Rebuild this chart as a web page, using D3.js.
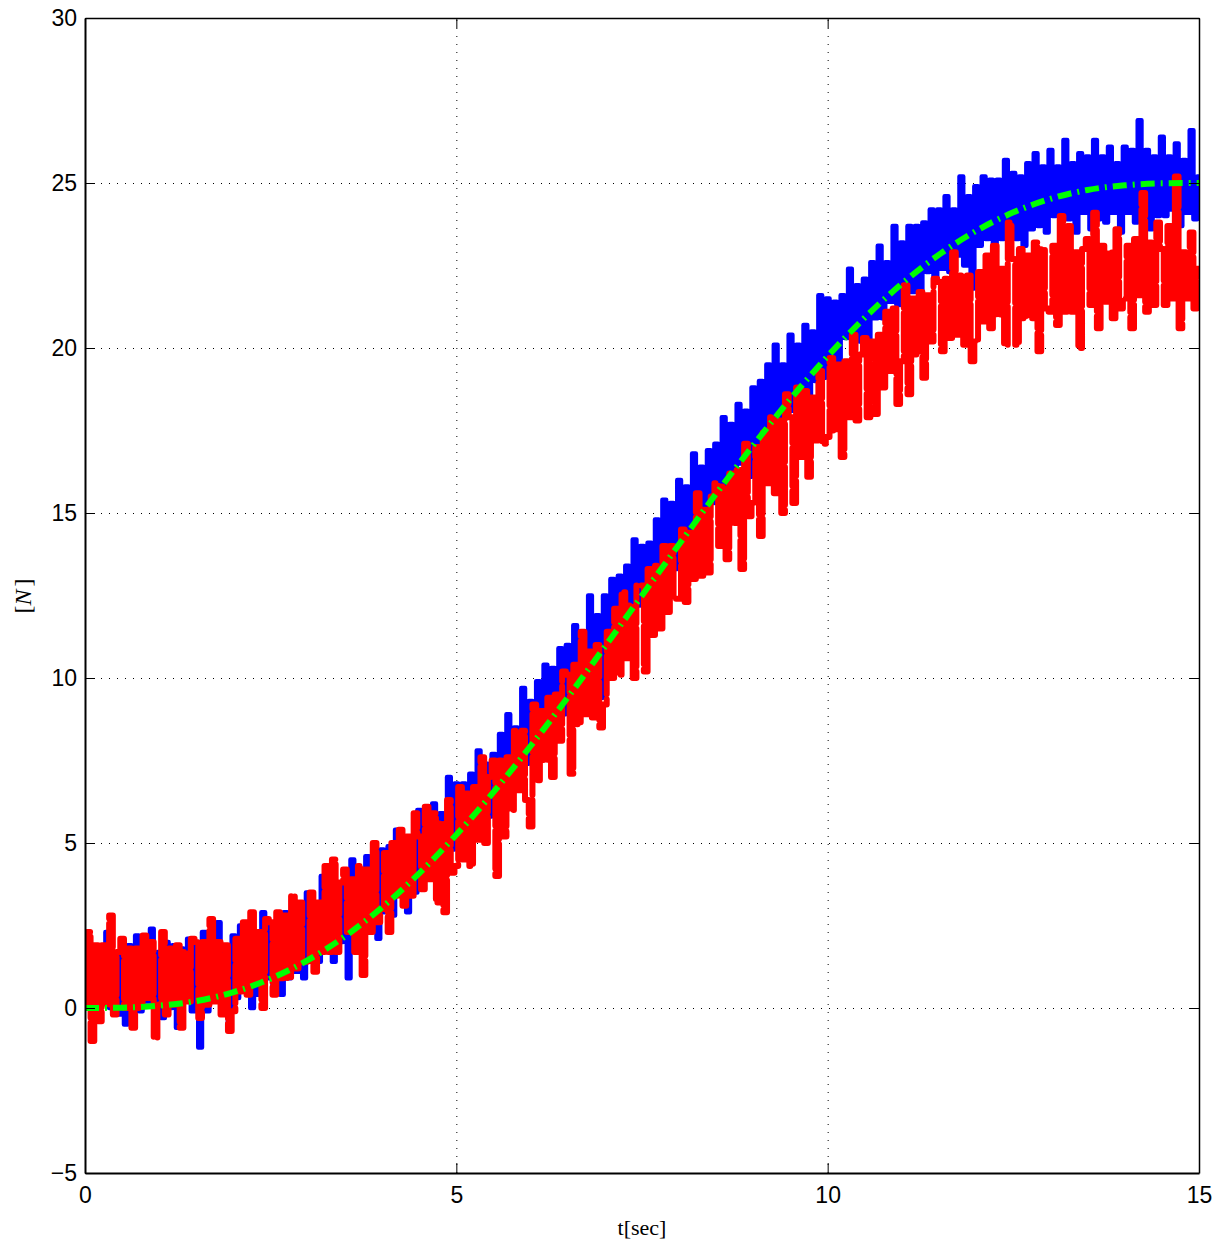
<!DOCTYPE html>
<html><head><meta charset="utf-8">
<script src="https://cdn.jsdelivr.net/npm/d3@7"></script>
<style>body{margin:0;background:#fff}svg{display:block}</style>
</head><body><svg id="c" width="1223" height="1242"></svg>
<script>
// ---- data ----
const xTicks = [0, 5, 10, 15];
const yTicks = [-5, 0, 5, 10, 15, 20, 25, 30];
const xLabel = "t[sec]";
const sampleStep = 0.05; // seconds between measured samples

// desired (reference) force, green dash-dot line
const refTime  = [0,0.5,1,1.5,2,2.5,3,3.5,4,4.5,5,5.5,6,6.5,7,7.5,8,8.5,9,9.5,10,10.5,11,11.5,12,12.5,13,13.5,14,14.5,15];
const refForce = [0,0.01,0.07,0.21,0.48,0.89,1.45,2.17,3.05,4.08,5.25,6.54,7.94,9.41,10.95,12.5,14.05,15.59,17.06,18.46,19.75,20.92,21.95,22.83,23.55,24.11,24.52,24.79,24.93,24.99,25.0];

// measured force, blue solid line
const measuredBlue = [
2.1,0.1,1.8,-0.4,1.8,0.3,2.3,0.0,1.6,-0.2,
1.6,-0.5,1.9,0.1,2.2,-0.1,1.5,0.2,2.4,-0.1,
1.7,-0.3,2.0,0.0,1.9,-0.6,1.8,0.2,2.1,-0.1,
1.9,-1.2,2.3,-0.1,1.7,0.3,2.6,-0.1,1.9,-0.6,
2.2,0.3,2.5,0.5,2.4,0.0,2.3,0.4,2.9,0.9,
2.5,0.6,2.4,0.4,2.9,0.9,3.3,1.1,3.0,0.9,
3.5,1.6,3.1,1.4,4.0,1.7,3.4,1.4,3.8,2.0,
3.8,0.9,4.5,2.1,4.1,2.2,4.6,2.7,4.2,2.1,
4.8,2.9,4.9,2.8,5.4,3.5,5.2,2.9,5.2,3.5,
6.0,3.7,5.6,4.5,6.2,4.2,5.9,4.4,7.0,4.8,
6.8,4.9,6.8,4.7,7.1,5.7,7.8,5.7,7.4,5.8,
7.7,5.8,8.3,6.7,8.9,6.8,8.5,7.4,9.7,7.4,
9.3,7.5,9.9,8.1,10.4,7.8,10.3,8.9,10.9,8.9,
11.0,9.3,11.6,9.4,11.3,10.0,12.5,9.9,11.9,9.4,
12.5,10.8,13.0,11.2,13.1,11.0,13.4,11.6,14.2,12.2,
14.0,12.2,14.1,12.2,14.8,12.9,15.4,13.3,15.3,13.3,
16.0,14.2,15.8,14.2,16.8,14.6,16.4,14.5,16.9,15.3,
17.1,15.1,17.9,15.7,17.7,16.0,18.3,16.5,18.1,16.1,
18.8,16.9,19.0,16.9,19.5,17.7,20.1,17.2,19.5,17.9,
20.4,18.1,20.1,18.6,20.7,18.4,20.5,19.0,21.6,19.1,
21.5,19.6,21.4,19.3,21.6,20.3,22.4,20.2,21.9,20.2,
22.1,20.1,22.6,20.9,23.1,20.9,22.6,21.4,23.7,21.3,
23.2,21.3,23.7,21.7,23.7,21.3,23.8,22.3,24.2,22.1,
24.2,22.4,24.6,22.3,24.2,22.8,25.2,22.5,24.6,21.8,
24.9,23.1,25.2,23.3,25.1,22.9,25.1,23.3,25.7,23.7,
25.3,23.3,25.2,23.1,25.6,23.6,25.9,23.7,25.5,23.5,
26.0,24.0,25.5,23.8,26.3,23.9,25.6,23.5,25.9,24.1,
25.8,23.6,26.3,23.9,25.8,23.8,26.1,24.1,25.6,23.5,
26.1,24.1,26.0,23.8,26.9,24.3,26.0,23.6,25.8,24.0,
26.4,24.0,25.8,24.2,26.2,23.7,25.7,24.1,26.6,23.9,
25.2];

// measured force, red dashed line
const measuredRed = [
0.0,2.3,-1.0,1.9,-0.4,1.9,0.1,2.8,-0.2,1.7,
2.1,0.0,1.8,-0.6,1.8,0.0,2.2,0.3,2.0,-0.9,
0.1,2.3,-0.2,1.8,0.1,1.9,-0.6,1.7,0.2,2.1,
2.0,-0.3,2.0,0.1,2.7,0.2,2.0,-0.2,1.9,-0.7,
-0.1,2.1,0.5,2.6,0.4,2.9,0.8,2.3,0.0,2.7,
2.6,0.4,2.9,0.9,2.8,0.9,3.4,1.2,3.2,1.4,
1.4,3.5,1.1,3.2,1.7,4.3,1.7,4.5,1.7,3.8,
4.2,2.3,3.9,1.7,4.3,1.0,4.2,2.3,5.0,2.6,
3.0,4.7,2.3,5.0,3.4,5.4,3.1,5.2,3.4,5.9,
5.2,3.6,6.1,3.9,5.9,3.2,5.6,2.9,6.3,4.1,
4.3,6.7,4.5,6.5,4.3,6.7,5.1,7.6,5.0,7.0,
7.5,4.0,7.5,5.2,7.6,6.0,8.4,6.6,8.4,6.3,
5.5,9.2,6.9,9.0,7.5,9.4,7.0,9.5,8.1,10.2,
10.1,7.1,10.4,8.6,11.4,8.9,10.8,8.8,11.0,8.5,
9.2,11.4,10.0,12.1,10.1,12.6,10.6,12.2,10.0,12.8,
12.8,10.2,13.3,11.3,13.4,11.5,14.0,12.0,14.0,12.4,
12.4,14.5,12.3,14.4,13.0,15.6,13.1,15.1,13.2,15.5,
15.9,14.0,15.8,13.6,16.2,14.7,16.3,13.3,17.1,14.9,
15.3,17.0,14.3,17.5,15.9,17.9,15.6,17.8,15.0,18.6,
17.9,15.3,18.8,16.7,18.7,16.1,18.5,17.2,19.3,17.1,
17.3,19.7,17.5,19.5,16.7,19.6,17.9,20.4,17.8,19.8,
20.3,17.9,20.2,18.0,20.4,18.8,21.1,19.3,21.2,18.3,
19.6,21.9,18.6,21.5,19.8,21.7,19.1,21.6,20.2,22.1,
22.0,19.9,22.1,20.3,22.9,20.4,22.2,20.1,22.2,19.6,
20.2,22.3,20.8,22.8,20.6,23.1,21.0,22.4,20.1,23.8,
22.7,20.1,23.0,20.9,22.8,20.9,23.2,19.9,23.0,21.2,
21.1,23.1,20.7,24.0,21.1,23.7,21.1,22.9,20.0,23.0,
23.3,21.3,24.1,20.6,23.1,21.4,22.9,20.9,23.6,21.2,
21.5,23.1,20.6,23.3,21.6,24.7,21.1,23.2,21.3,23.8,
23.0,21.3,23.7,21.5,25.2,20.6,22.9,21.5,23.5,21.2,
22.4];

// ---- drawing ----
const svg = d3.select("#c");
const L = 85, R = 1199, T = 18, B = 1173;
const x = d3.scaleLinear().domain([0, 15]).range([L, R]);
const y = d3.scaleLinear().domain([-5, 30]).range([B, T]);
const fmt = d => d < 0 ? "\u2212" + Math.abs(d) : String(d);

svg.append("defs").append("clipPath").attr("id", "clip")
  .append("rect").attr("x", L).attr("y", T).attr("width", R - L).attr("height", B - T);

// grid
const gx = svg.append("g").attr("transform", `translate(0,${B})`)
  .call(d3.axisBottom(x).tickValues(xTicks.slice(1, -1)).tickSize(-(B - T)).tickFormat(""));
const gy = svg.append("g").attr("transform", `translate(${L},0)`)
  .call(d3.axisLeft(y).tickValues(yTicks.slice(1, -1)).tickSize(-(R - L)).tickFormat(""));
[gx, gy].forEach(g => {
  g.select(".domain").remove();
  g.selectAll("line").attr("stroke", "#000").attr("stroke-width", 1).attr("stroke-dasharray", "1,7");
});

// data
const plot = svg.append("g").attr("clip-path", "url(#clip)");
const sampleLine = d3.line().curve(d3.curveStep).x((d, i) => x(i * sampleStep)).y(d => y(d));
plot.append("path").datum(measuredBlue).attr("d", sampleLine)
  .attr("fill", "none").attr("stroke", "#0000ff").attr("stroke-width", 4.5)
  .attr("stroke-linejoin", "round").attr("stroke-linecap", "round");
plot.append("path").datum(measuredRed).attr("d", sampleLine)
  .attr("fill", "none").attr("stroke", "#ff0000").attr("stroke-width", 6)
  .attr("stroke-linejoin", "round").attr("stroke-linecap", "round")
  .attr("stroke-dasharray", "38,5");
const refLine = d3.line().curve(d3.curveMonotoneX).x((d, i) => x(refTime[i])).y(d => y(d));
plot.append("path").datum(refForce).attr("d", refLine)
  .attr("fill", "none").attr("stroke", "#00ff00").attr("stroke-width", 6)
  .attr("stroke-dasharray", "14,6,2,6");

// axes (box with inward ticks)
const font = "'Liberation Sans', Arial, Helvetica, sans-serif";
const ax = (g, w) => {
  g.select(".domain").attr("stroke", "#000").attr("stroke-width", w);
  g.selectAll(".tick line").attr("stroke", "#000").attr("stroke-width", 1);
  g.selectAll("text").attr("fill", "#000").style("font-family", font).style("font-size", "23px");
};
ax(svg.append("g").attr("transform", `translate(0,${B})`)
  .call(d3.axisBottom(x).tickValues(xTicks).tickSizeInner(-10).tickSizeOuter(0).tickPadding(14).tickFormat(fmt)), 2);
ax(svg.append("g").attr("transform", `translate(${L},0)`)
  .call(d3.axisLeft(y).tickValues(yTicks).tickSizeInner(-10).tickSizeOuter(0).tickPadding(8).tickFormat(fmt)), 2);
ax(svg.append("g").attr("transform", `translate(0,${T})`)
  .call(d3.axisTop(x).tickValues(xTicks).tickSizeInner(-10).tickSizeOuter(0).tickFormat("")), 1.5);
ax(svg.append("g").attr("transform", `translate(${R},0)`)
  .call(d3.axisRight(y).tickValues(yTicks).tickSizeInner(-10).tickSizeOuter(0).tickFormat("")), 1.5);

// axis titles
const serif = "'Liberation Serif', 'DejaVu Serif', 'Times New Roman', serif";
svg.append("text").attr("x", (L + R) / 2).attr("y", 1235).attr("text-anchor", "middle")
  .style("font-family", serif).style("font-size", "22px").text(xLabel);
const yl = svg.append("text").attr("transform", "translate(31,596) rotate(-90)").attr("text-anchor", "middle")
  .style("font-family", serif).style("font-size", "24px");
yl.append("tspan").text("[");
yl.append("tspan").style("font-style", "italic").text("N");
yl.append("tspan").attr("dx", 3).text("]");
</script>
</body></html>
